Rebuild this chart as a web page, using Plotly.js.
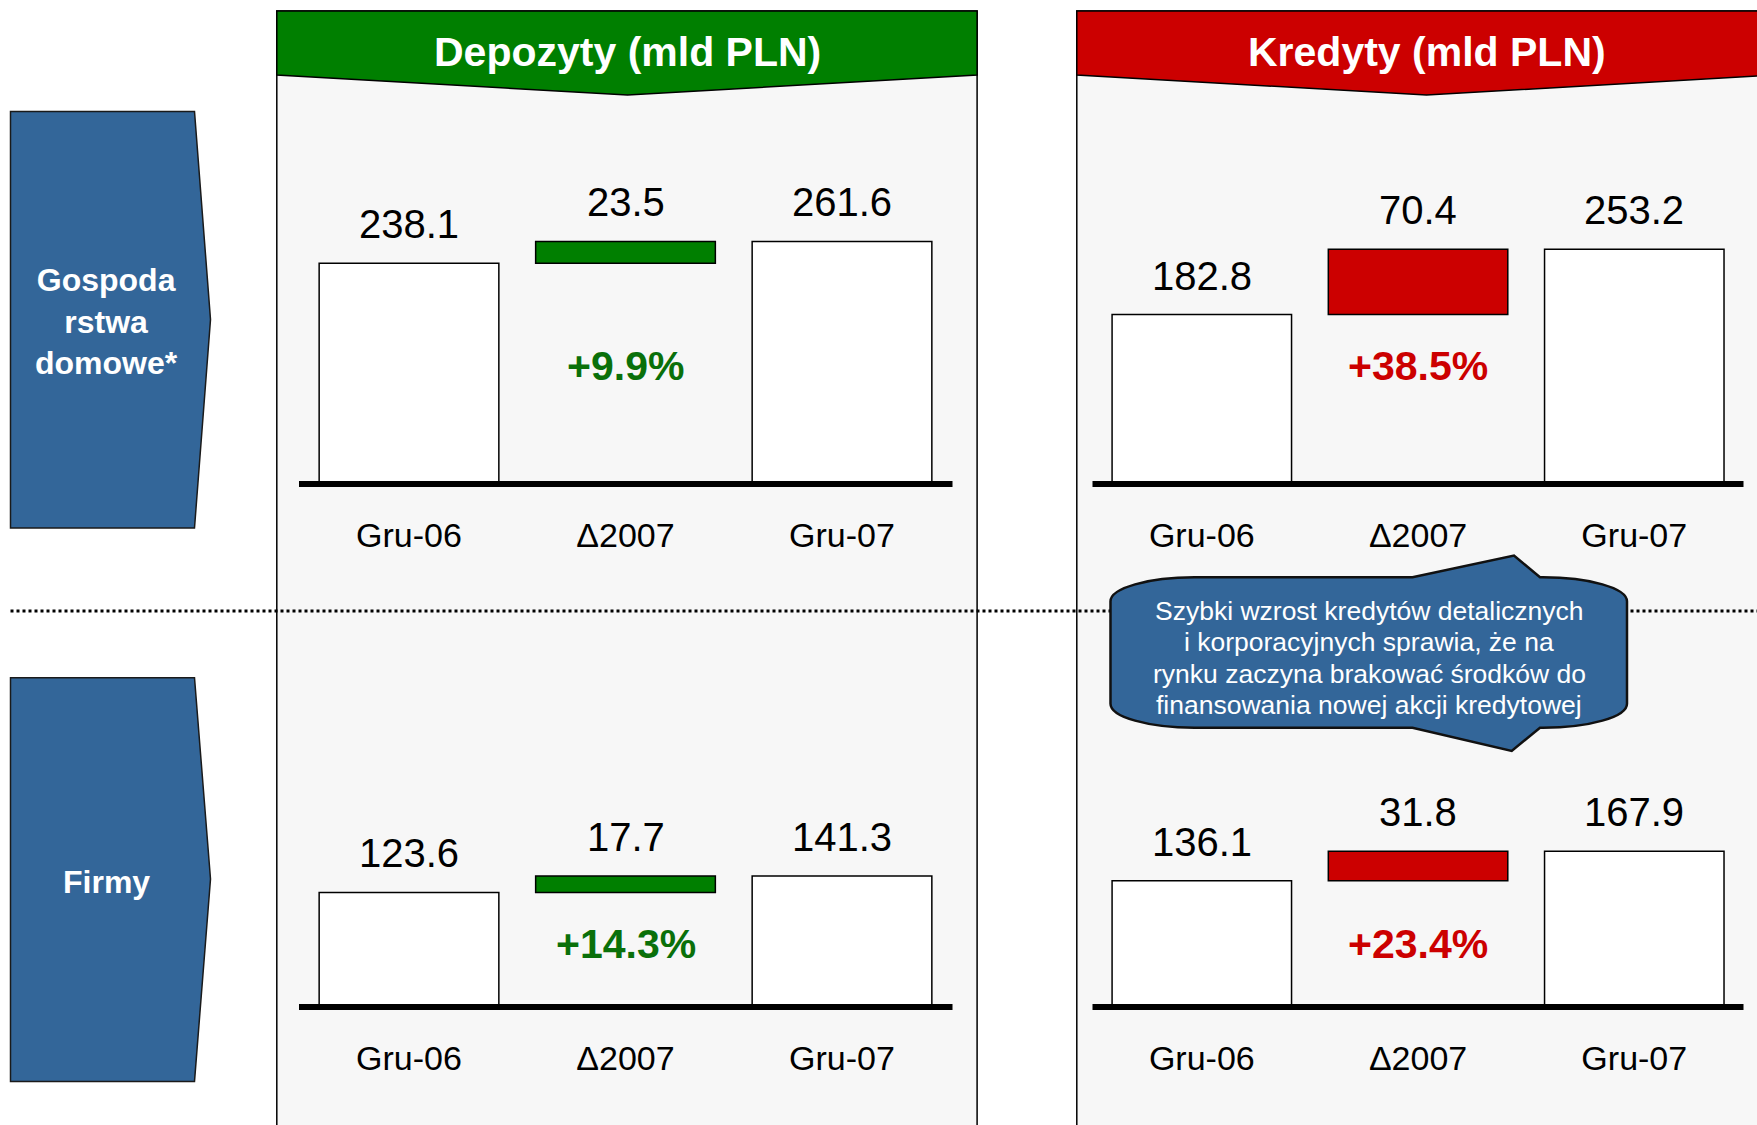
<!DOCTYPE html>
<html><head><meta charset="utf-8">
<script src="https://cdn.plot.ly/plotly-3.0.1.min.js"></script>
<style>html,body{margin:0;padding:0;background:#fff;} #chart{width:1757px;height:1125px;}</style>
</head><body><div id="chart"></div>
<script>
// ---------- data ----------
const categories = ['Gru-06', 'Δ2007', 'Gru-07'];
const depositsHouseholds = [238.1, 23.5, 261.6];
const creditsHouseholds  = [182.8, 70.4, 253.2];
const depositsFirms      = [123.6, 17.7, 141.3];
const creditsFirms       = [136.1, 31.8, 167.9];
const growthLabels = ['+9.9%', '+38.5%', '+14.3%', '+23.4%'];
const panelTitles = ['Depozyty (mld PLN)', 'Kredyty (mld PLN)'];
const rowLabels = ['Gospoda<br>rstwa<br>domowe*', 'Firmy'];
const noteLines = ['Szybki wzrost kredytów detalicznych', 'i korporacyjnych sprawia, że na',
                   'rynku zaczyna brakować środków do', 'finansowania nowej akcji kredytowej'];

// ---------- geometry helpers (pixels -> paper) ----------
const W = 1757, H = 1125;
const px = x => x / W;
const py = y => 1 - y / H;
const pt = (x, y) => px(x).toFixed(5) + ',' + py(y).toFixed(5);
const FONT = 'Liberation Sans, Arial, sans-serif';
const GREEN = '#007f00', RED = '#cc0000', BLUE = '#336699';

const colDomains = [[300.75, 950.25], [1093.7, 1742.4]];
const lineExtents = [[299, 952.5], [1092.5, 1743.5]];
const rowBase = [484, 1007];
const yMax = 300, pxPerUnit = 0.927;
const pctY = [366.4, 944];

const charts = [
  {vals: depositsHouseholds, col: 0, row: 0, color: GREEN, pctColor: '#0a700a', pct: growthLabels[0]},
  {vals: creditsHouseholds,  col: 1, row: 0, color: RED,   pctColor: RED,       pct: growthLabels[1]},
  {vals: depositsFirms,      col: 0, row: 1, color: GREEN, pctColor: '#0a700a', pct: growthLabels[2]},
  {vals: creditsFirms,       col: 1, row: 1, color: RED,   pctColor: RED,       pct: growthLabels[3]}
];

const traces = [];
const annotations = [];
const layout = {
  width: W, height: H, margin: {l: 0, r: 0, t: 0, b: 0},
  paper_bgcolor: '#ffffff', plot_bgcolor: 'rgba(0,0,0,0)',
  font: {family: FONT, color: '#000'},
  showlegend: false, bargap: 0,
  shapes: [], annotations: annotations
};

// ---------- background decorations ----------
const shapes = layout.shapes;
// panels
shapes.push({type: 'path', xref: 'paper', yref: 'paper', layer: 'below',
  path: 'M' + pt(276.8, 11) + 'L' + pt(977.1, 11) + 'L' + pt(977.1, 1140) + 'L' + pt(276.8, 1140) + 'Z',
  fillcolor: '#f7f7f7', line: {color: '#000', width: 1.5}});
shapes.push({type: 'path', xref: 'paper', yref: 'paper', layer: 'below',
  path: 'M' + pt(1076.8, 11) + 'L' + pt(1776, 11) + 'L' + pt(1776, 1140) + 'L' + pt(1076.8, 1140) + 'Z',
  fillcolor: '#f7f7f7', line: {color: '#000', width: 1.5}});
// headers
shapes.push({type: 'path', xref: 'paper', yref: 'paper', layer: 'below',
  path: 'M' + pt(276.8, 11) + 'L' + pt(977.1, 11) + 'L' + pt(977.1, 75) + 'L' + pt(627.5, 95) + 'L' + pt(276.8, 75) + 'Z',
  fillcolor: GREEN, line: {color: '#000', width: 1.5}});
shapes.push({type: 'path', xref: 'paper', yref: 'paper', layer: 'below',
  path: 'M' + pt(1076.8, 11) + 'L' + pt(1776, 11) + 'L' + pt(1776, 75) + 'L' + pt(1426.5, 95) + 'L' + pt(1076.8, 75) + 'Z',
  fillcolor: RED, line: {color: '#000', width: 1.5}});
// row arrows
[[111.4, 319.5, 527.9], [677.8, 879, 1081.4]].forEach(a => {
  shapes.push({type: 'path', xref: 'paper', yref: 'paper', layer: 'below',
    path: 'M' + pt(10.5, a[0]) + 'L' + pt(194.5, a[0]) + 'L' + pt(210.5, a[1]) + 'L' + pt(194.5, a[2]) + 'L' + pt(10.5, a[2]) + 'Z',
    fillcolor: BLUE, line: {color: '#1a1a1a', width: 1.5}});
});
// dotted separator
shapes.push({type: 'line', xref: 'paper', yref: 'paper', layer: 'below',
  x0: px(10.5), x1: px(1757), y0: py(611), y1: py(611),
  line: {color: '#000', width: 3, dash: 'dot'}});
// callout
(function () {
  const L = 1110.5, R = 1627, T = 577.3, B = 727.7, rx = 84, ry = 24, k = 0.5523;
  const p = 'M' + pt(L + rx, T) + 'L' + pt(1412.5, T) + 'L' + pt(1514, 555.5) + 'L' + pt(1540, T) +
    'L' + pt(R - rx, T) + 'C' + pt(R - rx + k * rx, T) + ' ' + pt(R, T + ry - k * ry) + ' ' + pt(R, T + ry) +
    'L' + pt(R, B - ry) + 'C' + pt(R, B - ry + k * ry) + ' ' + pt(R - rx + k * rx, B) + ' ' + pt(R - rx, B) +
    'L' + pt(1540, B) + 'L' + pt(1511.7, 751) + 'L' + pt(1412.5, B) +
    'L' + pt(L + rx, B) + 'C' + pt(L + rx - k * rx, B) + ' ' + pt(L, B - ry + k * ry) + ' ' + pt(L, B - ry) +
    'L' + pt(L, T + ry) + 'C' + pt(L, T + ry - k * ry) + ' ' + pt(L + rx - k * rx, T) + ' ' + pt(L + rx, T) + 'Z';
  shapes.push({type: 'path', xref: 'paper', yref: 'paper', layer: 'below', path: p,
    fillcolor: BLUE, line: {color: '#111', width: 2.5}});
})();

// ---------- texts ----------
function paperText(x, y, text, size, color) {
  annotations.push({xref: 'paper', yref: 'paper', x: px(x), y: py(y), xanchor: 'center', yanchor: 'middle',
    showarrow: false, text: text, font: {size: size, color: color, family: FONT}});
}
paperText(627.5, 51.5, '<b>' + panelTitles[0] + '</b>', 41, '#fff');
paperText(1426.5, 51.5, '<b>' + panelTitles[1] + '</b>', 41, '#fff');
paperText(106.5, 321.5, '<b>' + rowLabels[0] + '</b>', 32, '#fff');
paperText(106.5, 881.5, '<b>' + rowLabels[1] + '</b>', 32, '#fff');
noteLines.forEach((t, i) => paperText(1369, 611 + i * 31.3, t, 26.5, '#fff'));

// ---------- charts ----------
charts.forEach((c, i) => {
  const n = i === 0 ? '' : String(i + 1);
  const xa = 'x' + n, ya = 'y' + n;
  const base = [0, c.vals[0], 0];
  traces.push({
    type: 'bar', x: categories, y: c.vals, base: base, width: 0.83,
    xaxis: xa, yaxis: ya, hoverinfo: 'skip', showlegend: false,
    marker: {color: ['#ffffff', c.color, '#ffffff'], line: {color: '#000', width: 1.5}}
  });
  const d = colDomains[c.col];
  const b = rowBase[c.row];
  layout['xaxis' + n] = {
    domain: [px(d[0]), px(d[1])], anchor: ya, type: 'category', range: [-0.5, 2.5],
    showgrid: false, zeroline: false, showline: false, fixedrange: true,
    ticks: 'outside', ticklen: 21, tickcolor: 'rgba(0,0,0,0)',
    tickfont: {size: 34, color: '#000', family: FONT}
  };
  layout['yaxis' + n] = {
    domain: [py(b), py(b - yMax * pxPerUnit)], anchor: xa, range: [0, yMax],
    visible: false, fixedrange: true
  };
  const e = lineExtents[c.col];
  shapes.push({type: 'line', xref: 'paper', yref: 'paper', x0: px(e[0]), x1: px(e[1]), y0: py(b), y1: py(b),
    layer: 'above', line: {color: '#000', width: 6}});
  c.vals.forEach((v, j) => {
    annotations.push({xref: xa, yref: ya, x: categories[j], y: base[j] + v, xanchor: 'center', yanchor: 'middle', yshift: 39,
      showarrow: false, text: v.toFixed(1), font: {size: 40, color: '#000', family: FONT}});
  });
  annotations.push({xref: xa, yref: 'paper', x: categories[1], y: py(pctY[c.row]), xanchor: 'center', yanchor: 'middle',
    showarrow: false, text: '<b>' + c.pct + '</b>', font: {size: 41, color: c.pctColor, family: FONT}});
});

Plotly.newPlot('chart', traces, layout, {staticPlot: true, displayModeBar: false});
</script>
</body></html>
